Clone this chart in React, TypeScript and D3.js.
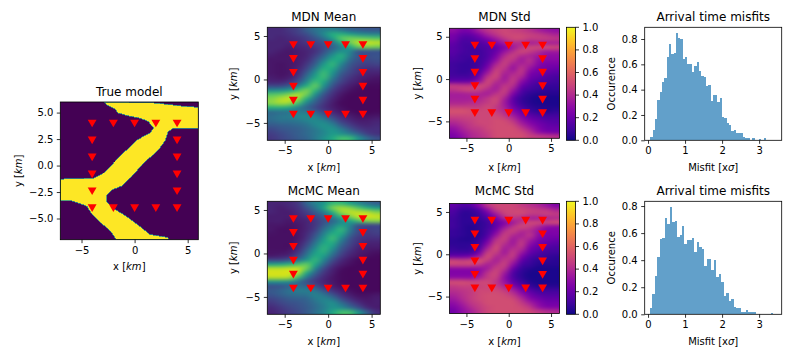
import React from "react";
import * as d3 from "d3";

// stations (km)
const stationX = [-4, -2, 0, 2, 4, -4, -2, 0, 2, 4, -4, -4, -4, -4, 4, 4, 4, 4];
const stationY = [4, 4, 4, 4, 4, -4, -4, -4, -4, -4, 2.4, 0.8, -0.8, -2.4, 2.4, 0.8, -0.8, -2.4];

// outline of the fast body in the true model, km
const bodyX = [-2.86, 2.06, 3.3, 4.57, 6, 6, 3.6, 3.16, 2.9, 2.37, 1.75, 1.1, 0.5, -0.3, -1.23, -2.17, -2.64, -2.64, -2, -0.92, 0.18, 1.43, 3.16, 3.16, -1.7, -2.33, -3.27, -4.05, -4.5, -5.4, -5.93, -7, -7, -3.9, -2.95, -1.86, -0.76, 0.02, 0.8, 1.43, 1.8, 1.28, 0.5, -0.6, -1.55, -1.86, -2.64];
const bodyY = [6, 5.9, 5.75, 5.6, 5.5, 3.53, 3.5, 3.2, 2.4, 1.63, 1, 0.5, -0.17, -1.05, -1.94, -2.3, -2.8, -3.43, -4.06, -4.7, -5.5, -6.5, -6.8, -7, -7, -6.12, -5.33, -4.54, -3.84, -3.5, -3.33, -3.33, -1.28, -1.2, -0.74, 0.37, 1.47, 2.27, 2.74, 3.06, 3.53, 4.16, 4.48, 4.7, 4.96, 5.34, 5.75];

// fields: rows y = 5.75 ... -6.75 (0.5 km), columns x = -6.5 ... 5.5 (1 km), percent
const mdnMean = [
  [12, 12, 16, 20, 30, 38, 42, 42, 36, 30, 28, 26, 26],
  [12, 12, 14, 18, 24, 34, 48, 62, 62, 55, 48, 44, 42],
  [12, 10, 12, 14, 18, 26, 38, 56, 74, 78, 76, 74, 72],
  [10, 10, 10, 12, 16, 20, 26, 38, 62, 78, 90, 92, 90],
  [10, 10, 8, 10, 12, 16, 22, 30, 44, 60, 76, 80, 78],
  [10, 8, 6, 8, 10, 14, 24, 38, 50, 46, 26, 26, 26],
  [8, 6, 6, 8, 10, 18, 32, 50, 62, 42, 26, 24, 26],
  [6, 6, 6, 8, 12, 24, 42, 60, 58, 34, 24, 22, 24],
  [6, 5, 6, 8, 16, 30, 54, 66, 46, 28, 20, 18, 20],
  [6, 5, 6, 10, 20, 40, 62, 60, 38, 24, 16, 14, 14],
  [6, 5, 6, 12, 28, 50, 68, 52, 30, 20, 14, 10, 10],
  [8, 6, 8, 16, 36, 58, 68, 44, 24, 16, 10, 8, 6],
  [10, 10, 14, 24, 46, 68, 60, 34, 20, 12, 8, 5, 4],
  [22, 22, 28, 42, 62, 76, 50, 26, 14, 8, 4, 3, 3],
  [48, 50, 56, 68, 80, 66, 38, 18, 10, 5, 3, 2, 2],
  [74, 76, 82, 88, 78, 50, 26, 14, 6, 3, 2, 2, 2],
  [82, 88, 92, 84, 62, 36, 20, 10, 4, 2, 2, 2, 2],
  [82, 86, 84, 70, 44, 28, 16, 8, 3, 2, 2, 2, 2],
  [62, 62, 58, 44, 32, 22, 14, 8, 4, 2, 2, 2, 2],
  [34, 36, 38, 42, 40, 32, 20, 12, 6, 4, 2, 2, 3],
  [36, 40, 42, 46, 48, 44, 32, 20, 12, 8, 5, 5, 6],
  [34, 38, 38, 40, 44, 48, 44, 32, 18, 12, 8, 8, 10],
  [28, 30, 32, 34, 38, 46, 50, 44, 28, 18, 12, 10, 12],
  [22, 26, 28, 30, 34, 40, 48, 52, 42, 28, 18, 14, 14],
  [18, 22, 26, 30, 34, 40, 46, 54, 50, 42, 30, 18, 14],
  [16, 20, 24, 28, 32, 40, 50, 60, 70, 68, 50, 35, 25],
];

const mcmcMean = [
  [10, 10, 12, 16, 32, 44, 52, 66, 66, 56, 46, 36, 30],
  [10, 8, 10, 14, 24, 38, 58, 80, 86, 82, 72, 62, 54],
  [10, 8, 8, 12, 18, 28, 42, 62, 84, 90, 90, 88, 82],
  [8, 8, 8, 10, 14, 20, 30, 44, 66, 80, 92, 94, 92],
  [8, 8, 6, 8, 10, 16, 24, 32, 46, 58, 70, 80, 82],
  [6, 6, 5, 6, 10, 16, 28, 42, 56, 46, 24, 22, 22],
  [6, 4, 4, 6, 10, 18, 36, 52, 66, 42, 22, 18, 20],
  [5, 4, 4, 6, 12, 24, 44, 62, 60, 34, 20, 16, 18],
  [4, 4, 4, 6, 14, 30, 52, 68, 48, 26, 16, 14, 14],
  [4, 4, 4, 8, 18, 38, 58, 62, 38, 22, 14, 10, 10],
  [4, 4, 4, 10, 24, 46, 64, 54, 30, 18, 10, 8, 8],
  [5, 5, 6, 14, 32, 54, 64, 44, 24, 14, 8, 6, 5],
  [6, 8, 10, 20, 40, 60, 56, 34, 18, 10, 6, 4, 3],
  [20, 20, 26, 36, 52, 66, 46, 24, 12, 6, 3, 2, 2],
  [58, 60, 64, 70, 76, 60, 34, 16, 8, 4, 2, 2, 2],
  [90, 90, 92, 92, 78, 46, 22, 10, 4, 2, 2, 2, 2],
  [94, 94, 94, 88, 60, 32, 16, 8, 3, 2, 2, 2, 2],
  [90, 90, 88, 70, 40, 22, 12, 6, 3, 2, 2, 2, 2],
  [50, 50, 48, 36, 24, 16, 10, 6, 3, 2, 2, 2, 2],
  [24, 26, 30, 34, 32, 24, 14, 8, 4, 2, 2, 2, 2],
  [28, 32, 38, 42, 42, 38, 26, 14, 8, 4, 2, 2, 2],
  [26, 30, 34, 36, 38, 44, 38, 26, 14, 8, 4, 4, 6],
  [20, 24, 28, 30, 32, 40, 46, 40, 24, 14, 8, 6, 8],
  [16, 20, 24, 26, 30, 36, 44, 50, 38, 24, 14, 8, 8],
  [12, 16, 20, 24, 28, 34, 42, 50, 48, 36, 24, 12, 8],
  [10, 14, 18, 22, 28, 36, 46, 60, 70, 70, 52, 30, 14],
];

const mdnStd = [
  [30, 24, 26, 36, 44, 48, 50, 48, 46, 42, 36, 32, 30],
  [24, 18, 18, 26, 36, 44, 50, 50, 50, 48, 46, 42, 38],
  [22, 14, 14, 18, 26, 34, 44, 50, 50, 46, 46, 46, 44],
  [18, 12, 12, 14, 18, 26, 34, 40, 40, 36, 38, 36, 36],
  [16, 12, 10, 12, 14, 18, 26, 34, 44, 50, 50, 52, 50],
  [16, 12, 10, 10, 14, 20, 32, 42, 50, 46, 40, 34, 34],
  [14, 10, 10, 10, 14, 24, 40, 48, 40, 38, 34, 30, 30],
  [12, 10, 8, 10, 16, 30, 46, 44, 34, 42, 30, 28, 28],
  [10, 8, 8, 10, 20, 38, 48, 36, 38, 38, 28, 24, 24],
  [10, 8, 8, 12, 26, 46, 44, 32, 44, 32, 24, 22, 20],
  [10, 8, 10, 16, 34, 50, 38, 38, 44, 26, 22, 18, 16],
  [12, 12, 12, 22, 44, 50, 34, 44, 38, 22, 18, 14, 12],
  [18, 18, 20, 30, 50, 42, 36, 46, 30, 18, 14, 12, 10],
  [46, 44, 44, 50, 48, 36, 44, 42, 22, 14, 10, 8, 8],
  [44, 48, 50, 48, 40, 36, 48, 34, 16, 10, 8, 6, 6],
  [36, 36, 38, 38, 36, 44, 46, 26, 12, 6, 4, 4, 4],
  [36, 36, 36, 38, 44, 50, 38, 18, 8, 4, 2, 2, 2],
  [38, 38, 40, 42, 46, 50, 34, 18, 8, 4, 2, 2, 2],
  [46, 46, 46, 46, 50, 46, 36, 22, 12, 6, 4, 3, 3],
  [54, 54, 52, 50, 50, 46, 40, 28, 18, 10, 6, 4, 6],
  [50, 50, 50, 50, 50, 50, 44, 34, 24, 16, 12, 10, 10],
  [44, 46, 48, 50, 50, 52, 50, 42, 30, 22, 18, 14, 14],
  [38, 42, 46, 50, 50, 52, 52, 48, 36, 28, 22, 18, 16],
  [32, 38, 44, 46, 50, 52, 52, 52, 44, 34, 26, 20, 20],
  [28, 34, 40, 44, 48, 52, 52, 52, 50, 42, 30, 24, 22],
  [24, 30, 38, 42, 46, 52, 52, 52, 52, 48, 46, 44, 42],
];

const mcmcStd = [
  [18, 14, 16, 28, 44, 50, 50, 50, 46, 42, 38, 32, 26],
  [14, 8, 8, 14, 30, 46, 50, 50, 50, 48, 46, 44, 38],
  [12, 6, 6, 10, 20, 34, 48, 50, 50, 46, 46, 48, 46],
  [10, 6, 6, 8, 14, 24, 38, 44, 40, 36, 36, 38, 40],
  [10, 6, 6, 6, 10, 18, 26, 34, 44, 50, 50, 50, 52],
  [10, 6, 4, 6, 10, 18, 32, 44, 50, 46, 38, 30, 28],
  [8, 6, 4, 6, 12, 24, 42, 48, 40, 40, 32, 26, 26],
  [8, 6, 4, 6, 14, 32, 48, 40, 36, 44, 30, 24, 24],
  [6, 4, 4, 8, 20, 42, 48, 34, 42, 36, 26, 22, 20],
  [6, 6, 6, 10, 28, 48, 42, 34, 46, 30, 22, 18, 16],
  [8, 6, 8, 14, 36, 52, 36, 40, 42, 24, 18, 14, 12],
  [10, 10, 10, 22, 46, 48, 34, 46, 34, 20, 14, 10, 10],
  [20, 20, 24, 34, 52, 40, 40, 46, 26, 14, 10, 8, 6],
  [50, 48, 50, 54, 46, 36, 46, 38, 18, 10, 6, 6, 5],
  [48, 48, 48, 44, 36, 42, 48, 30, 12, 8, 4, 4, 4],
  [28, 28, 28, 30, 36, 48, 42, 20, 8, 4, 2, 2, 2],
  [26, 26, 26, 30, 44, 50, 34, 14, 6, 2, 2, 2, 2],
  [30, 30, 30, 36, 46, 48, 30, 14, 6, 2, 2, 2, 2],
  [52, 52, 50, 50, 50, 44, 32, 18, 10, 4, 2, 2, 2],
  [46, 48, 48, 48, 50, 46, 38, 26, 16, 8, 4, 4, 4],
  [42, 44, 46, 50, 50, 50, 46, 36, 24, 16, 10, 10, 10],
  [38, 42, 46, 50, 52, 52, 50, 44, 32, 22, 16, 14, 14],
  [34, 40, 46, 50, 52, 52, 52, 50, 40, 28, 22, 18, 18],
  [30, 36, 44, 48, 52, 52, 52, 52, 46, 36, 28, 22, 22],
  [26, 32, 40, 46, 50, 52, 52, 52, 50, 44, 32, 26, 26],
  [22, 30, 36, 44, 50, 52, 52, 52, 52, 50, 46, 42, 40],
];

// normalised histogram heights, 50 bins
const mdnBinStart = 0.063;
const mdnBinWidth = 0.0625;
const mdnMisfit = [
  0.025, 0.08, 0.17, 0.315, 0.385, 0.46, 0.49, 0.655, 0.76, 0.68, 0.69, 0.85, 0.805, 0.8, 0.645, 0.655, 0.6, 0.6, 0.54, 0.59, 0.62, 0.55, 0.51, 0.5, 0.43, 0.435, 0.31, 0.355, 0.355, 0.3, 0.335, 0.185, 0.18, 0.135, 0.12, 0.07, 0.085, 0.06, 0.055, 0.055, 0.03, 0.015, 0.015, 0, 0.015, 0.005, 0, 0.008, 0, 0.02,
];
const mcmcBinStart = 0.054;
const mcmcBinWidth = 0.0664;
const mcmcMisfit = [
  0.05, 0.15, 0.285, 0.42, 0.56, 0.565, 0.715, 0.67, 0.795, 0.68, 0.69, 0.57, 0.585, 0.65, 0.52, 0.55, 0.55, 0.565, 0.46, 0.535, 0.5, 0.48, 0.36, 0.405, 0.405, 0.33, 0.4, 0.275, 0.3, 0.24, 0.135, 0.16, 0.095, 0.11, 0.055, 0.045, 0.045, 0.02, 0.02, 0.03, 0.015, 0.015, 0.015, 0, 0.005, 0.005, 0, 0, 0, 0.008,
];

const cbarTicks = [0, 0.2, 0.4, 0.6, 0.8, 1];
const FONT = "'DejaVu Sans'";
const minus = (s: string) => s.replace("-", "\u2212");
const km = (d: d3.NumberValue) => minus(String(d));
const km1 = (d: d3.NumberValue) => minus((+d).toFixed(1));
const f1 = (d: d3.NumberValue) => (+d).toFixed(1);

type Box = { x0: number; x1: number; y0: number; y1: number };

function fieldImage(rows: number[][], interp: (t: number) => string, size: number) {
  const cells = document.createElement("canvas");
  cells.width = rows[0].length;
  cells.height = rows.length;
  const ctx = cells.getContext("2d")!;
  const color = d3.scaleSequential(interp).domain([0, 100]);
  rows.forEach((row, j) =>
    row.forEach((v, i) => {
      ctx.fillStyle = color(v);
      ctx.fillRect(i, j, 1, 1);
    })
  );
  // scale up with the browser's smoothing so the 1 km cells don't show as beads
  const out = document.createElement("canvas");
  out.width = size;
  out.height = size;
  const octx = out.getContext("2d")!;
  octx.imageSmoothingEnabled = true;
  octx.imageSmoothingQuality = "high";
  octx.drawImage(cells, 0, 0, size, size);
  octx.filter = "blur(1.2px)";
  octx.drawImage(out, 0, 0);
  return out.toDataURL();
}

function Axes({ box, xDomain, yDomain, xTicks, yTicks, xFmt = km, yFmt = km, title, titleY, xLabelY, yLabelX, xLabel, yLabel, children }: any) {
  const xRef = React.useRef<SVGGElement>(null);
  const yRef = React.useRef<SVGGElement>(null);
  const x = d3.scaleLinear().domain(xDomain).range([box.x0, box.x1]);
  const y = d3.scaleLinear().domain(yDomain).range([box.y1, box.y0]);

  React.useEffect(() => {
    const ax = d3.axisBottom(x).tickValues(xTicks).tickSize(3.5).tickPadding(3.5).tickFormat(xFmt);
    const ay = d3.axisLeft(y).tickValues(yTicks).tickSize(3.5).tickPadding(3.5).tickFormat(yFmt);
    for (const [ref, axis] of [[xRef, ax], [yRef, ay]] as any) {
      const g = d3.select(ref.current).call(axis);
      g.select(".domain").remove();
      g.selectAll("line").attr("stroke", "#000").attr("stroke-width", 0.8);
      g.selectAll("text").attr("fill", "#000").style("font-family", FONT).style("font-size", "10px");
    }
  });

  const cx = (box.x0 + box.x1) / 2;
  const cy = (box.y0 + box.y1) / 2;
  return (
    <g>
      {children(x, y)}
      <rect x={box.x0} y={box.y0} width={box.x1 - box.x0} height={box.y1 - box.y0} fill="none" stroke="#000" strokeWidth={0.8} />
      <g ref={xRef} transform={`translate(0,${box.y1})`} />
      <g ref={yRef} transform={`translate(${box.x0},0)`} />
      <text x={cx} y={titleY} textAnchor="middle" fontSize={12}>{title}</text>
      <text x={cx} y={xLabelY} textAnchor="middle" fontSize={10}>{xLabel}</text>
      <text transform={`translate(${yLabelX},${cy}) rotate(-90)`} textAnchor="middle" fontSize={10}>{yLabel}</text>
    </g>
  );
}

function Stations({ x, y }: any) {
  const tri = d3.symbol(d3.symbolTriangle, 34)()!;
  return (
    <g>
      {stationX.map((sx, i) => (
        <path key={i} d={tri} fill="#ff0000" transform={`translate(${x(sx)},${y(stationY[i]) - 1}) rotate(180)`} />
      ))}
    </g>
  );
}

const kmLabel = (axis: string) => (
  <>
    {axis} [<tspan fontStyle="italic">km</tspan>]
  </>
);

function Field({ box, rows, interp, title, titleY, xLabelY, yLabelX }: any) {
  const size = Math.round(box.x1 - box.x0);
  const href = React.useMemo(() => fieldImage(rows, interp, size), [rows, interp, size]);
  return (
    <Axes
      box={box} xDomain={[-7, 6]} yDomain={[-7, 6]} xTicks={[-5, 0, 5]} yTicks={[-5, 0, 5]}
      title={title} titleY={titleY} xLabelY={xLabelY} yLabelX={yLabelX} xLabel={kmLabel("x")} yLabel={kmLabel("y")}
    >
      {(x: any, y: any) => (
        <g>
          <image href={href} x={x(-7)} y={y(6)} width={x(6) - x(-7)} height={y(-7) - y(6)} preserveAspectRatio="none" />
          <Stations x={x} y={y} />
        </g>
      )}
    </Axes>
  );
}

function TrueModel({ box }: { box: Box }) {
  return (
    <Axes
      box={box} xDomain={[-7, 6]} yDomain={[-7, 6]} xTicks={[-5, 0, 5]} yTicks={[-5, -2.5, 0, 2.5, 5]} yFmt={km1}
      title="True model" titleY={96} xLabelY={270} yLabelX={22} xLabel={kmLabel("x")} yLabel={kmLabel("y")}
    >
      {(x: any, y: any) => {
        const line = d3.line<number>().x((d) => x(bodyX[d])).y((d) => y(bodyY[d])).curve(d3.curveLinearClosed);
        return (
          <g>
            <clipPath id="true-clip">
              <rect x={box.x0} y={box.y0} width={box.x1 - box.x0} height={box.y1 - box.y0} />
            </clipPath>
            <rect x={box.x0} y={box.y0} width={box.x1 - box.x0} height={box.y1 - box.y0} fill={d3.interpolateViridis(0)} />
            <path d={line(d3.range(bodyX.length))!} fill={d3.interpolateViridis(1)} stroke="#2b8f8c" strokeWidth={0.8} clipPath="url(#true-clip)" shapeRendering="crispEdges" />
            <Stations x={x} y={y} />
          </g>
        );
      }}
    </Axes>
  );
}

function Colorbar({ box, id }: { box: Box; id: string }) {
  const y = d3.scaleLinear().domain([0, 1]).range([box.y1, box.y0]);
  const stops = d3.range(0, 1.001, 0.05);
  return (
    <g>
      <linearGradient id={id} x1="0" y1="1" x2="0" y2="0">
        {stops.map((s) => (
          <stop key={s} offset={s} stopColor={d3.interpolatePlasma(s)} />
        ))}
      </linearGradient>
      <rect x={box.x0} y={box.y0} width={box.x1 - box.x0} height={box.y1 - box.y0} fill={`url(#${id})`} stroke="#000" strokeWidth={0.8} />
      {cbarTicks.map((t) => (
        <g key={t} transform={`translate(${box.x1},${y(t)})`}>
          <line x2={3.5} stroke="#000" strokeWidth={0.8} />
          <text x={7} dy="0.32em" fontSize={10}>{t.toFixed(1)}</text>
        </g>
      ))}
    </g>
  );
}

function Hist({ box, values, start, width, yMax, yTicks, titleY, xLabelY }: any) {
  return (
    <Axes
      box={box} xDomain={[-0.09, 3.61]} yDomain={[0, yMax]} xTicks={[0, 1, 2, 3]} yTicks={yTicks} yFmt={f1}
      title="Arrival time misfits" titleY={titleY} xLabelY={xLabelY} yLabelX={615}
      xLabel={<>Misfit [x<tspan fontStyle="italic">σ</tspan>]</>} yLabel="Occurence"
    >
      {(x: any, y: any) => (
        <g>
          {values.map((v: number, i: number) => (
            <rect key={i} x={x(start + i * width)} width={x(start + (i + 1) * width) - x(start + i * width)} y={y(v)} height={y(0) - y(v)} fill="#1f77b4" fillOpacity={0.7} shapeRendering="crispEdges" />
          ))}
        </g>
      )}
    </Axes>
  );
}

export default function App() {
  return (
    <svg width={792} height={360} fontFamily={FONT} fill="#000" style={{ position: "absolute", left: 0, top: 0, display: "block", background: "#fff" }}>
      <TrueModel box={{ x0: 60.3, x1: 198.3, y0: 102, y1: 239.7 }} />

      <Field box={{ x0: 267.3, x1: 380.3, y0: 27.3, y1: 140.3 }} rows={mdnMean} interp={d3.interpolateViridis} title="MDN Mean" titleY={21} xLabelY={171} yLabelX={237} />
      <Field box={{ x0: 267.3, x1: 380.3, y0: 201.3, y1: 314.3 }} rows={mcmcMean} interp={d3.interpolateViridis} title="McMC Mean" titleY={195} xLabelY={345} yLabelX={237} />

      <Field box={{ x0: 449.5, x1: 559.5, y0: 28.3, y1: 138.3 }} rows={mdnStd} interp={d3.interpolatePlasma} title="MDN Std" titleY={21} xLabelY={171} yLabelX={421} />
      <Colorbar id="cb1" box={{ x0: 566.5, x1: 575.5, y0: 27.3, y1: 140.3 }} />
      <Field box={{ x0: 449.5, x1: 559.5, y0: 203.5, y1: 313.5 }} rows={mcmcStd} interp={d3.interpolatePlasma} title="McMC Std" titleY={195} xLabelY={345} yLabelX={421} />
      <Colorbar id="cb2" box={{ x0: 566.5, x1: 575.5, y0: 201.3, y1: 314.3 }} />

      <Hist box={{ x0: 644.7, x1: 781.7, y0: 27.3, y1: 140.3 }} values={mdnMisfit} start={mdnBinStart} width={mdnBinWidth} yMax={0.8925} yTicks={[0, 0.2, 0.4, 0.6, 0.8]} titleY={21} xLabelY={171} />
      <Hist box={{ x0: 644.7, x1: 781.7, y0: 201.3, y1: 314.3 }} values={mcmcMisfit} start={mcmcBinStart} width={mcmcBinWidth} yMax={0.835} yTicks={[0, 0.2, 0.4, 0.6, 0.8]} titleY={195} xLabelY={345} />
    </svg>
  );
}
